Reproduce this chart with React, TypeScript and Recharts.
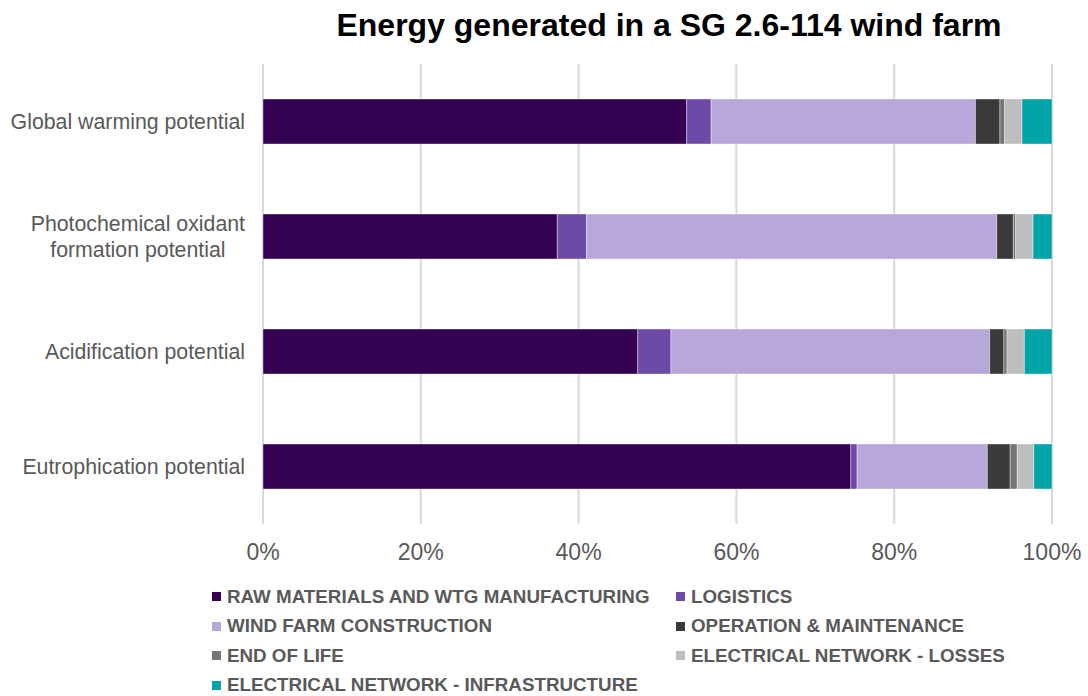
import { Bar, BarChart, CartesianGrid, XAxis, YAxis } from "recharts";

const categories = [
  "Global warming potential",
  "Photochemical oxidant\nformation potential",
  "Acidification potential",
  "Eutrophication potential",
];

const seriesNames = [
  "RAW MATERIALS AND WTG MANUFACTURING",
  "LOGISTICS",
  "WIND FARM CONSTRUCTION",
  "OPERATION & MAINTENANCE",
  "END OF LIFE",
  "ELECTRICAL NETWORK - LOSSES",
  "ELECTRICAL NETWORK - INFRASTRUCTURE",
];

const seriesColors = [
  "#330052",
  "#6d4aa8",
  "#b8a7da",
  "#3a3a3a",
  "#767676",
  "#bebebe",
  "#00a5aa",
];

// values per series, one entry per category (percent share)
const rawMaterials = [53.7, 37.3, 47.5, 74.5];
const logistics = [3.1, 3.7, 4.2, 0.8];
const construction = [33.5, 52.0, 40.4, 16.5];
const operation = [3.1, 2.1, 1.8, 2.9];
const endOfLife = [0.6, 0.3, 0.4, 0.9];
const losses = [2.2, 2.2, 2.2, 2.1];
const infrastructure = [3.8, 2.4, 3.5, 2.3];

const xTicks = [0, 20, 40, 60, 80, 100];

const seriesValues = [
  rawMaterials,
  logistics,
  construction,
  operation,
  endOfLife,
  losses,
  infrastructure,
];

const data = categories.map((name, i) => {
  const row: Record<string, string | number> = { name };
  seriesValues.forEach((vals, s) => {
    row[`s${s}`] = vals[i];
  });
  return row;
});

const FONT = "'Liberation Sans', Arial, sans-serif";
const GREY = "#595959";

function measure(text: string, font: string) {
  const ctx = document.createElement("canvas").getContext("2d");
  if (!ctx) return text.length * 10;
  ctx.font = font;
  return ctx.measureText(text).width;
}

function CategoryTick(props: any) {
  const { x, y, payload } = props;
  const lines = String(payload.value).split("\n");
  const size = 21.3;
  const right = x - 10;
  if (lines.length === 1) {
    return (
      <text x={right} y={y} dy="0.35em" textAnchor="end" fill={GREY} fontSize={size} fontFamily={FONT}>
        {lines[0]}
      </text>
    );
  }
  // multi-line labels are centred on each other, block right aligned
  const w = Math.max(...lines.map((l) => measure(l, `${size}px ${FONT}`)));
  const lineH = 26;
  const startY = y - ((lines.length - 1) * lineH) / 2;
  return (
    <text x={right - w / 2} y={startY} textAnchor="middle" fill={GREY} fontSize={size} fontFamily={FONT}>
      {lines.map((l, i) => (
        <tspan key={i} x={right - w / 2} y={startY + i * lineH} dy="0.35em">
          {l}
        </tspan>
      ))}
    </text>
  );
}

function Legend() {
  const rows: number[][] = [];
  for (let i = 0; i < seriesNames.length; i += 2) rows.push([i, i + 1]);
  return (
    <div style={{ position: "absolute", left: 212, top: 582 }}>
      {rows.map((r, ri) => (
        <div key={ri} style={{ display: "flex", height: 29.5, alignItems: "center" }}>
          {r.map((s) =>
            s < seriesNames.length ? (
              <div key={s} style={{ width: 464, display: "flex", alignItems: "center" }}>
                <span style={{ width: 9, height: 9, background: seriesColors[s], marginRight: 6 }} />
                <span
                  style={{
                    fontFamily: FONT,
                    fontWeight: "bold",
                    fontSize: 18.8,
                    lineHeight: "16px",
                    color: GREY,
                    whiteSpace: "nowrap",
                  }}
                >
                  {seriesNames[s]}
                </span>
              </div>
            ) : null,
          )}
        </div>
      ))}
    </div>
  );
}

export default function App() {
  return (
    <div style={{ position: "absolute", left: 0, top: 0, width: 1088, height: 696, background: "#fff", overflow: "hidden" }}>
      <div
        style={{
          position: "absolute",
          left: 263,
          width: 812,
          top: 7,
          textAlign: "center",
          fontFamily: FONT,
          fontWeight: "bold",
          fontSize: 32,
          color: "#000",
          whiteSpace: "nowrap",
        }}
      >
        Energy generated in a SG 2.6-114 wind farm
      </div>
      <BarChart
        width={1088}
        height={582}
        data={data}
        layout="vertical"
        margin={{ top: 64, right: 36, bottom: 0, left: 0 }}
        barSize={45}
      >
        <CartesianGrid horizontal={false} stroke="#d9d9d9" strokeWidth={2} />
        <XAxis
          type="number"
          domain={[0, 100]}
          ticks={xTicks}
          tickFormatter={(v) => `${v}%`}
          axisLine={false}
          tickLine={false}
          tickMargin={14}
          height={58}
          tick={{ fill: GREY, fontSize: 23, fontFamily: FONT }}
        />
        <YAxis
          type="category"
          dataKey="name"
          width={263}
          axisLine={false}
          tickLine={false}
          tick={<CategoryTick />}
        />
        {seriesNames.map((n, s) => (
          <Bar
            key={n}
            dataKey={`s${s}`}
            name={n}
            stackId="a"
            fill={seriesColors[s]}
            stroke="#ffffff"
            strokeOpacity={0.5}
            strokeWidth={0.75}
            isAnimationActive={false}
          />
        ))}
      </BarChart>
      <Legend />
    </div>
  );
}
